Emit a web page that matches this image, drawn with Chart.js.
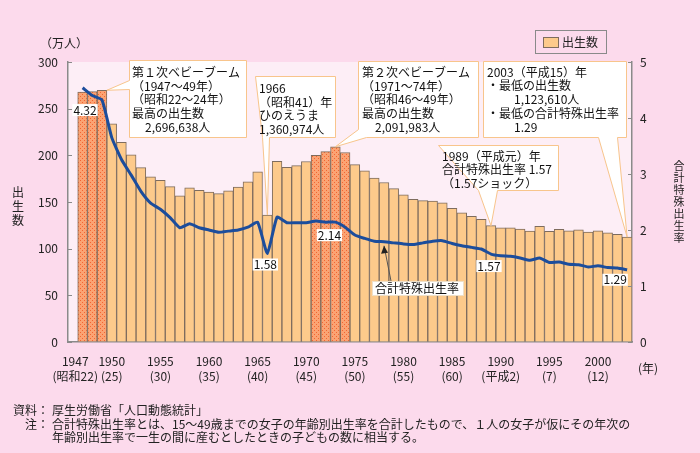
<!DOCTYPE html>
<html lang="ja">
<head>
<meta charset="utf-8">
<script src="https://cdn.jsdelivr.net/npm/chart.js@4.4.1/dist/chart.umd.min.js"></script>
<style>
  html, body { margin: 0; padding: 0; background: #fcdaec; }
  #wrap { width: 700px; height: 453px; }
</style>
</head>
<body>
<div id="wrap"><canvas id="birthChart" width="700" height="453"></canvas></div>
<script>
// 出生数（万人）と合計特殊出生率, 1947-2003
const years = [1947, 1948, 1949, 1950, 1951, 1952, 1953, 1954, 1955, 1956,
               1957, 1958, 1959, 1960, 1961, 1962, 1963, 1964, 1965, 1966,
               1967, 1968, 1969, 1970, 1971, 1972, 1973, 1974, 1975, 1976,
               1977, 1978, 1979, 1980, 1981, 1982, 1983, 1984, 1985, 1986,
               1987, 1988, 1989, 1990, 1991, 1992, 1993, 1994, 1995, 1996,
               1997, 1998, 1999, 2000, 2001, 2002, 2003];
const births = [267.9, 268.2, 269.7, 233.8, 213.8, 200.5, 186.8, 177.0, 173.1, 166.5,
                156.7, 165.3, 162.6, 160.6, 158.9, 161.9, 166.0, 171.7, 182.4, 136.1,
                193.5, 187.2, 188.9, 193.4, 200.1, 203.9, 209.2, 203.0, 190.1, 183.3,
                175.5, 170.9, 164.3, 157.7, 152.9, 151.5, 150.9, 149.0, 143.2, 138.3,
                134.7, 131.4, 124.7, 122.2, 122.3, 120.9, 118.8, 123.8, 118.7, 120.7,
                119.2, 120.3, 117.8, 119.1, 117.1, 115.4, 112.4];
const tfr = [4.54, 4.40, 4.32, 3.65, 3.26, 2.98, 2.69, 2.48, 2.37, 2.22,
             2.04, 2.11, 2.04, 2.00, 1.96, 1.98, 2.00, 2.05, 2.14, 1.58,
             2.23, 2.13, 2.13, 2.13, 2.16, 2.14, 2.14, 2.05, 1.91, 1.85,
             1.80, 1.79, 1.77, 1.75, 1.74, 1.77, 1.80, 1.81, 1.76, 1.72,
             1.69, 1.66, 1.57, 1.54, 1.53, 1.50, 1.46, 1.50, 1.42, 1.43,
             1.39, 1.38, 1.34, 1.36, 1.33, 1.32, 1.29];
const boomYears = [1947, 1948, 1949, 1971, 1972, 1973, 1974];
const tickYears = [1947, 1950, 1955, 1960, 1965, 1970, 1975, 1980, 1985, 1990, 1995, 2000];
const eraLabels = ['(昭和22)', '(25)', '(30)', '(35)', '(40)', '(45)', '(50)', '(55)', '(60)', '(平成2)', '(7)', '(12)'];
const labelYears = [1949, 1966, 1973, 1989, 2003];

const FONT = "'Noto Sans CJK JP', 'Noto Sans', sans-serif";
Chart.defaults.font.family = FONT;
Chart.defaults.font.size = 12;
Chart.defaults.color = '#222';

const BAR = '#fdca8b';
const EDGE = '#7e6c5e';
const AXIS = '#8a8a8a';
const NOTE_EDGE = '#f8c58c';

// dotted fill for the baby boom years
function dotPattern() {
    const c = document.createElement('canvas');
    c.width = 4; c.height = 4;
    const g = c.getContext('2d');
    g.fillStyle = '#fba373';
    g.fillRect(0, 0, 4, 4);
    g.fillStyle = '#f26632';
    g.fillRect(0, 0, 1, 1);
    g.fillRect(2, 2, 1, 1);
    return g.createPattern(c, 'repeat');
}
const dots = dotPattern();

// callout boxes: polygon with a 'tip' pointing at a bar top
const callouts = [
    { pts: [[129, 60], [246, 60], [246, 137], [129, 137], [129, 89], 'tip', [129, 80]],
      tip: { year: 1949, dx: 0.5 },
      lines: [[132, 72, '第１次ベビーブーム'], [132, 86, '（1947～49年）'], [132, 99, '（昭和22～24年）'],
              [132, 113, '最高の出生数'], [145, 127, '2,696,638人']] },
    { pts: [[255, 76], [335, 76], [335, 137], [269, 137], 'tip', [262, 137]],
      tip: { year: 1966, dx: 0 },
      lines: [[259, 88, '1966'], [259, 102, '（昭和41）年'], [259, 115, 'ひのえうま'], [259, 129, '1,360,974人']] },
    { pts: [[358, 61], [478, 61], [478, 137], [366, 137], 'tip', [358, 129]],
      tip: { year: 1973, dx: 0 },
      lines: [[362, 72, '第２次ベビーブーム'], [362, 86, '（1971～74年）'], [362, 99, '（昭和46～49年）'],
              [362, 113, '最高の出生数'], [375, 127, '2,091,983人']] },
    { pts: [[438, 145], [558, 145], [558, 190], [497, 190], 'tip', [478, 190]],
      tip: { year: 1989, dx: 0 },
      lines: [[442, 156, '1989（平成元）年'], [442, 169, '合計特殊出生率 1.57'], [442, 183, '（1.57ショック）']] },
    { pts: [[483, 61], [626, 61], [626, 137], [617, 137], 'tip', [598, 137], [483, 137]],
      tip: { year: 2003, dx: 0 },
      lines: [[487, 72, '2003（平成15）年'], [487, 85, '・最低の出生数'], [514, 99, '1,123,610人'],
              [487, 113, '・最低の合計特殊出生率'], [514, 127, '1.29']] }
];
// offsets of the value labels from their line points
const labelOffsets = [[-17, 10], [-2, 11], [-6, 13], [-2, 12], [-12, 10]];

const decor = {
    id: 'decor',
    beforeDraw(chart) {
        const { ctx, chartArea: a } = chart;
        ctx.save();
        ctx.fillStyle = '#fcdaec';
        ctx.fillRect(0, 0, chart.width, chart.height);
        ctx.fillStyle = '#fdeef6';
        ctx.fillRect(a.left, a.top, a.right - a.left, a.bottom - a.top);
        ctx.restore();
    },
    afterDatasetsDraw(chart) {
        const { ctx, scales } = chart;
        const x = scales.x, y = scales.y, y1 = scales.y1;
        ctx.save();
        ctx.font = '12px ' + FONT;
        ctx.textBaseline = 'middle';

        // callouts
        callouts.forEach(c => {
            const i = years.indexOf(c.tip.year);
            const tx = x.getPixelForValue(c.tip.year + c.tip.dx);
            const ty = y.getPixelForValue(births[i]);
            ctx.beginPath();
            c.pts.forEach((p, k) => {
                const q = p === 'tip' ? [tx, ty] : [p[0] + 0.5, p[1] + 0.5];
                if (k === 0) ctx.moveTo(q[0], q[1]); else ctx.lineTo(q[0], q[1]);
            });
            ctx.closePath();
            ctx.fillStyle = '#fff';
            ctx.fill();
            ctx.strokeStyle = NOTE_EDGE;
            ctx.lineWidth = 1;
            ctx.stroke();
            ctx.fillStyle = '#111';
            ctx.textAlign = 'left';
            c.lines.forEach(l => ctx.fillText(l[2], l[0], l[1]));
        });

        // value labels on the rate line
        ctx.textAlign = 'center';
        labelYears.forEach((yr, k) => {
            const i = years.indexOf(yr);
            const px = x.getPixelForValue(yr) + labelOffsets[k][0];
            const py = y1.getPixelForValue(tfr[i]) + labelOffsets[k][1];
            const txt = tfr[i].toFixed(2);
            const w = ctx.measureText(txt).width + 2;
            ctx.fillStyle = '#fff';
            ctx.fillRect(px - w / 2, py - 6, w, 12);
            ctx.fillStyle = '#111';
            ctx.fillText(txt, px, py);
        });

        // series name with arrow
        const ai = years.indexOf(1978);
        const ax = x.getPixelForValue(1978), ay = y1.getPixelForValue(tfr[ai]) + 4;
        ctx.strokeStyle = '#555';
        ctx.lineWidth = 1;
        ctx.beginPath();
        ctx.moveTo(391, 281);
        ctx.lineTo(ax, ay);
        ctx.stroke();
        ctx.fillStyle = '#222';
        ctx.beginPath();
        ctx.moveTo(ax, ay);
        ctx.lineTo(ax - 3, ay + 8);
        ctx.lineTo(ax + 4, ay + 7);
        ctx.closePath();
        ctx.fill();
        ctx.fillStyle = '#fff';
        ctx.fillRect(372, 281, 91, 14);
        ctx.strokeStyle = '#efe0c8';
        ctx.strokeRect(372.5, 281.5, 91, 14);
        ctx.fillStyle = '#111';
        ctx.fillText('合計特殊出生率', 417, 288.5);
        ctx.restore();
    },
    afterDraw(chart) {
        const { ctx, scales, chartArea: a } = chart;
        ctx.save();
        // short inner tick marks
        ctx.strokeStyle = AXIS;
        ctx.lineWidth = 1;
        scales.y.ticks.forEach(t => {
            const py = Math.round(scales.y.getPixelForValue(t.value)) + 0.5;
            ctx.beginPath(); ctx.moveTo(a.left, py); ctx.lineTo(a.left + 4, py); ctx.stroke();
        });
        scales.y1.ticks.forEach(t => {
            const py = Math.round(scales.y1.getPixelForValue(t.value)) + 0.5;
            ctx.beginPath(); ctx.moveTo(a.right - 4, py); ctx.lineTo(a.right, py); ctx.stroke();
        });

        ctx.font = '12px ' + FONT;
        ctx.fillStyle = '#222';
        ctx.textBaseline = 'middle';
        ctx.textAlign = 'left';
        ctx.fillText('（万人）', 40, 43);
        ctx.textAlign = 'center';
        ctx.fillText('(年)', 648, 368);
        ['出', '生', '数'].forEach((ch, k) => ctx.fillText(ch, 18, 192 + k * 14));
        ctx.font = '11px ' + FONT;
        '合計特殊出生率'.split('').forEach((ch, k) => ctx.fillText(ch, 679, 166 + k * 12));
        ctx.font = '12px ' + FONT;

        // legend
        ctx.strokeStyle = AXIS;
        ctx.strokeRect(535.5, 30.5, 71, 23);
        ctx.fillStyle = BAR;
        ctx.fillRect(543, 37, 15, 10);
        ctx.strokeStyle = EDGE;
        ctx.strokeRect(543.5, 37.5, 15, 10);
        ctx.fillStyle = '#222';
        ctx.textAlign = 'left';
        ctx.fillText('出生数', 562, 42.5);

        // notes
        ctx.textAlign = 'right';
        ctx.fillText('資料：', 49, 410);
        ctx.fillText('注：', 49, 424);
        ctx.textAlign = 'left';
        ctx.fillText('厚生労働省「人口動態統計」', 52, 410);
        ctx.fillText('合計特殊出生率とは、15～49歳までの女子の年齢別出生率を合計したもので、１人の女子が仮にその年次の', 52, 424);
        ctx.fillText('年齢別出生率で一生の間に産むとしたときの子どもの数に相当する。', 52, 437);
        ctx.restore();
    }
};

new Chart(document.getElementById('birthChart'), {
    type: 'bar',
    data: {
        datasets: [{
            type: 'line',
            label: '合計特殊出生率',
            data: years.map((yr, i) => ({ x: yr, y: tfr[i] })),
            yAxisID: 'y1',
            borderColor: '#1c4d9c',
            borderWidth: 3,
            pointRadius: 0,
            tension: 0.15,
            order: 0
        }, {
            label: '出生数',
            data: years.map((yr, i) => ({ x: yr, y: births[i] })),
            yAxisID: 'y',
            backgroundColor: years.map(yr => boomYears.includes(yr) ? dots : BAR),
            borderColor: EDGE,
            borderWidth: 1,
            borderSkipped: 'bottom',
            barPercentage: 1,
            categoryPercentage: 1,
            order: 1
        }]
    },
    options: {
        responsive: false,
        animation: false,
        layout: { padding: { top: 62, bottom: 0, left: 0, right: 0 } },
        plugins: {
            legend: { display: false },
            tooltip: { enabled: false }
        },
        scales: {
            x: {
                type: 'linear',
                offset: false,
                min: 1945.5,
                max: 2003.5,
                grid: { display: false },
                border: { color: AXIS, width: 1.5 },
                afterBuildTicks: s => { s.ticks = tickYears.map(v => ({ value: v })); },
                afterFit: s => { s.height = 111; },
                ticks: {
                    autoSkip: false,
                    maxRotation: 0,
                    padding: 4,
                    font: { size: 12, lineHeight: 1.25 },
                    callback: (v, i) => i === 0
                        ? [tickYears[i] + '\u3000 ', eraLabels[i] + '\u3000 ']
                        : [String(tickYears[i]), eraLabels[i]]
                }
            },
            y: {
                position: 'left',
                min: 0,
                max: 300,
                grid: { drawOnChartArea: false, drawTicks: false },
                border: { color: AXIS, width: 1.5 },
                afterFit: s => { s.width = 68; },
                ticks: { stepSize: 50, padding: 10 }
            },
            y1: {
                position: 'right',
                min: 0,
                max: 5,
                grid: { drawOnChartArea: false, drawTicks: false },
                border: { color: AXIS, width: 1.5 },
                afterFit: s => { s.width = 68; },
                ticks: { stepSize: 1, padding: 8 }
            }
        }
    },
    plugins: [decor]
});
</script>
</body>
</html>
